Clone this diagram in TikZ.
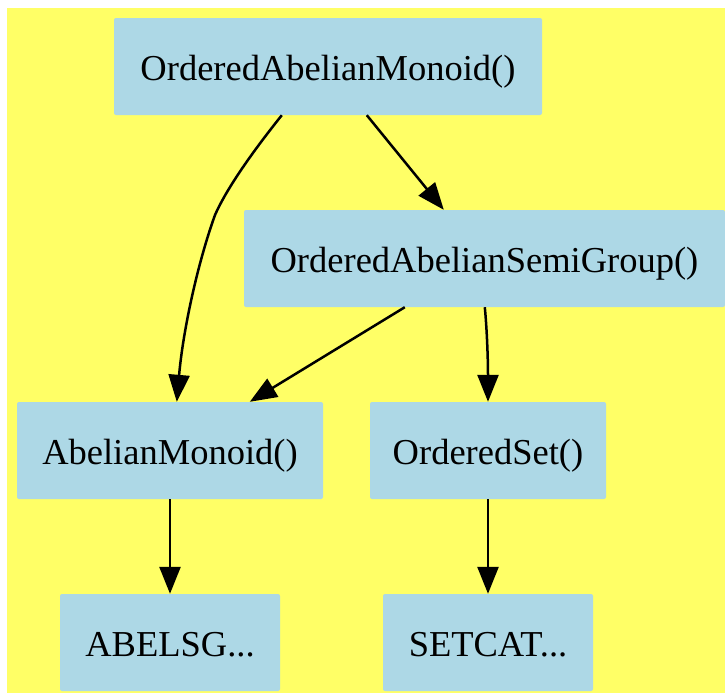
\documentclass[tikz,border=0pt]{standalone}
\usepackage{fontspec}
\setmainfont{Liberation Serif}
\usetikzlibrary{arrows.meta,calc}
\definecolor{bgyellow}{HTML}{FFFF66}
\definecolor{boxblue}{HTML}{ADD8E6}
\begin{document}
\begin{tikzpicture}[x=1pt,y=-1pt,
  box/.style={fill=boxblue,rounded corners=2pt,inner sep=0pt,minimum height=97pt,text height=30pt,text depth=3pt,font=\fontsize{36.5}{40}\selectfont},
  edge/.style={line width=2.5pt,-{Triangle[length=27pt,width=21pt]}}]
\useasboundingbox (0,0) rectangle (725,694);
\fill[bgyellow] (7,8) rectangle (725,693);
\node[box,minimum width=428pt] (oam) at (328,66.5) {OrderedAbelianMonoid()};
\node[box,minimum width=481pt] (oasg) at (484.5,258.5) {OrderedAbelianSemiGroup()};
\node[box,minimum width=306pt] (am) at (170,450.5) {AbelianMonoid()};
\node[box,minimum width=236pt] (os) at (488,450.5) {OrderedSet()};
\node[box,minimum width=220pt] (ab) at (170,642.5) {ABELSG...};
\node[box,minimum width=210pt] (sc) at (488,642.5) {SETCAT...};
\draw[edge] ($(oam.south west)+(168,0)$) .. controls (250,155) and (226,190) .. (215,215) .. controls (198,262) and (183,330) .. ($(am.north west)+(160,0)$);
\draw[edge] ($(oam.south west)+(253,0)$) -- ($(oasg.north west)+(200,0)$);
\draw[edge] ($(oasg.south west)+(161,0)$) -- ($(am.north west)+(233,0)$);
\draw[edge] ($(oasg.south west)+(241,0)$) .. controls (487,330) and (488,360) .. (os.north);
\draw[edge] (am.south) -- (ab.north);
\draw[edge] (os.south) -- (sc.north);
\end{tikzpicture}
\end{document}
